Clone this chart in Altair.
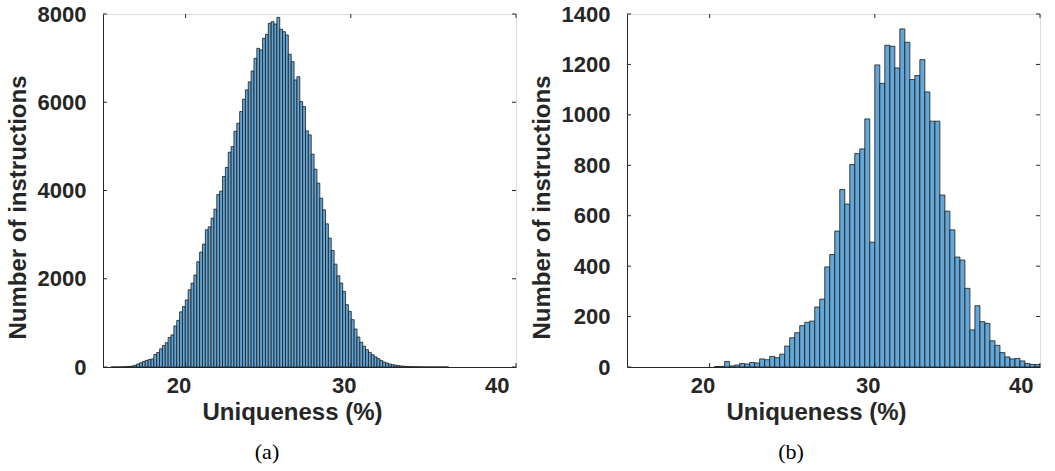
import altair as alt
import pandas as pd

# ---------------- data ----------------
# panel (a): histogram of uniqueness, bin width ~0.173 starting at ~15.48
left_start = 15.48
left_width = 0.1732
left_counts = [
    1, 1, 2, 3, 5, 9, 14, 22, 40,
    68, 95, 125, 150, 168, 180, 285, 330, 410, 485, 550, 670, 728, 930, 1056,
    1250, 1370, 1520, 1750, 1902, 2083, 2385, 2604, 2785, 3109, 3177, 3373,
    3577, 3908, 3984, 4317, 4521, 4868, 4996, 5343, 5524, 5789, 6068, 6279,
    6460, 6709, 6996, 7222, 7185, 7449, 7540, 7789, 7826, 7773, 7924,
    7653, 7600, 7525, 7087, 6920, 6505, 6580, 6015, 5902, 5351, 5260, 4823,
    4483, 4166, 3826, 3562, 3245, 2921, 2641, 2332, 2068, 1902, 1713, 1411,
    1260, 1072, 860, 680, 560, 470, 392, 332, 279, 230, 190, 150, 113, 90,
    68, 53, 40, 30, 23, 17, 12, 9, 7, 5, 4, 3, 3, 2, 2, 2, 1, 1, 1, 1, 1,
]

# panel (b): histogram of uniqueness, bin width ~0.303 starting at ~20.30
right_start = 20.303
right_width = 0.30303
right_counts = [
    2, 2, 22, 4, 8, 14, 12, 18, 16, 32,
    29, 42, 37, 51, 83, 116, 136, 164, 177, 182,
    238, 269, 397, 446, 539, 704, 646, 803, 847, 865,
    984, 495, 1198, 1125, 1276, 1272, 1186, 1341, 1288, 1140,
    1156, 1219, 1091, 975, 975, 682, 618, 544, 436, 424,
    312, 147, 243, 180, 173, 104, 86, 57, 40, 32,
    34, 24, 14, 10, 10,
]

x_domain = [15, 40]
x_ticks = [20, 30, 40]
left_y_ticks = [0, 2000, 4000, 6000, 8000]
right_y_ticks = [0, 200, 400, 600, 800, 1000, 1200, 1400]
x_title = "Uniqueness (%)"
y_title = "Number of instructions"

# ---------------- style ----------------
W, H = 413, 353
FILL = "#62A7D7"
EDGE = "#1a1a1a"
INK = "#262626"
SANS = "Liberation Sans"
SERIF = "Liberation Serif"
TICK = 4


def panel(counts, start, width, ymax, yticks, caption):
    lo = [start + i * width for i in range(len(counts))]
    df = pd.DataFrame({"lo": lo, "hi": [v + width for v in lo],
                       "count": counts, "base": [0] * len(counts)})
    xs = alt.Scale(domain=x_domain, nice=False, zero=False)
    ys = alt.Scale(domain=[0, ymax], nice=False, zero=True)

    x_axis = alt.Axis(
        values=x_ticks, format="d", title=x_title, ticks=False, grid=False,
        labelFont=SANS, labelFontWeight="bold", labelFontSize=22, labelColor=INK,
        labelPadding=8, labelOffset=-7,
        titleFont=SANS, titleFontWeight="bold", titleFontSize=24, titleColor=INK,
        titleX=189, titleY=45, titleBaseline="middle", titleAlign="center",
        domainColor=INK, domainWidth=1,
    )
    y_axis = alt.Axis(
        values=yticks, format="d", title=y_title, ticks=False, grid=False,
        labelFont=SANS, labelFontWeight="bold", labelFontSize=22, labelColor=INK,
        labelPadding=17,
        titleFont=SANS, titleFontWeight="bold", titleFontSize=24, titleColor=INK,
        titleAngle=270, titleX=-85, titleY=193, titleBaseline="middle",
        titleAlign="center",
        domainColor=INK, domainWidth=1,
    )

    bars = alt.Chart(df).mark_rect(
        fill=FILL, stroke=EDGE, strokeWidth=0.8, clip=True
    ).encode(
        x=alt.X("lo:Q", scale=xs, axis=x_axis),
        x2="hi:Q",
        y=alt.Y("count:Q", scale=ys, axis=y_axis),
        y2="base:Q",
    )

    ydf = pd.DataFrame({"v": yticks})
    xdf = pd.DataFrame({"v": x_ticks})
    ytl = alt.Chart(ydf).mark_rule(color=INK, strokeWidth=1).encode(
        y=alt.Y("v:Q", scale=ys, axis=y_axis), x=alt.value(0), x2=alt.value(TICK))
    ytr = alt.Chart(ydf).mark_rule(color=INK, strokeWidth=1).encode(
        y=alt.Y("v:Q", scale=ys, axis=y_axis), x=alt.value(W - TICK), x2=alt.value(W))
    xtb = alt.Chart(xdf).mark_rule(color=INK, strokeWidth=1).encode(
        x=alt.X("v:Q", scale=xs, axis=x_axis), y=alt.value(H), y2=alt.value(H - TICK))
    xtt = alt.Chart(xdf).mark_rule(color=INK, strokeWidth=1).encode(
        x=alt.X("v:Q", scale=xs, axis=x_axis), y=alt.value(0), y2=alt.value(TICK))

    cap = alt.Chart(pd.DataFrame({"t": [caption]})).mark_text(
        font=SERIF, fontSize=22, color="#000000", align="center", baseline="middle"
    ).encode(text="t:N", x=alt.value(164), y=alt.value(438))

    return alt.layer(bars, ytl, ytr, xtb, xtt, cap).properties(width=W, height=H)


left = panel(left_counts, left_start, left_width, 8000, left_y_ticks, "(a)")
right = panel(right_counts, right_start, right_width, 1400, right_y_ticks, "(b)")

chart = alt.hconcat(left, right, spacing=111, bounds="flush").properties(
    padding={"left": 5, "top": 2, "right": 5, "bottom": 5}
).configure_view(
    stroke="#707070", strokeWidth=1
).configure(background="white")

chart.save("out.html", embed_options={"renderer": "svg", "actions": False})
